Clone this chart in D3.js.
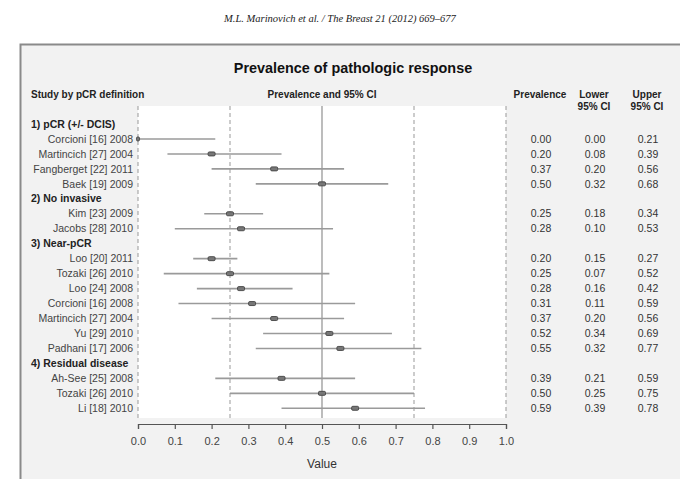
<!DOCTYPE html>
<html>
<head>
<meta charset="utf-8">
<script src="https://cdn.jsdelivr.net/npm/d3@7"></script>
<style>
  html, body { margin: 0; padding: 0; background: #fff; }
  svg { display: block; font-family: "Liberation Sans", Arial, sans-serif; }
</style>
</head>
<body>
<svg id="chart" width="680" height="479"></svg>
<script>
// Study groups (pCR definition) and the studies in each
const groups = ["1) pCR (+/- DCIS)", "2) No invasive", "3) Near-pCR", "4) Residual disease"];
const studies = [
  "Corcioni [16] 2008", "Martincich [27] 2004", "Fangberget [22] 2011", "Baek [19] 2009",
  "Kim [23] 2009", "Jacobs [28] 2010",
  "Loo [20] 2011", "Tozaki [26] 2010", "Loo [24] 2008", "Corcioni [16] 2008",
  "Martincich [27] 2004", "Yu [29] 2010", "Padhani [17] 2006",
  "Ah-See [25] 2008", "Tozaki [26] 2010", "Li [18] 2010"
];
const studyGroup = [0, 0, 0, 0, 1, 1, 2, 2, 2, 2, 2, 2, 2, 3, 3, 3];
const prevalence = [0.00, 0.20, 0.37, 0.50, 0.25, 0.28, 0.20, 0.25, 0.28, 0.31, 0.37, 0.52, 0.55, 0.39, 0.50, 0.59];
const lower      = [0.00, 0.08, 0.20, 0.32, 0.18, 0.10, 0.15, 0.07, 0.16, 0.11, 0.20, 0.34, 0.32, 0.21, 0.25, 0.39];
const upper      = [0.21, 0.39, 0.56, 0.68, 0.34, 0.53, 0.27, 0.52, 0.42, 0.59, 0.56, 0.69, 0.77, 0.59, 0.75, 0.78];
const xTicks = [0, 0.1, 0.2, 0.3, 0.4, 0.5, 0.6, 0.7, 0.8, 0.9, 1.0];
const dashedRefs = [0, 0.25, 0.75, 1.0];
const solidRef = 0.5;

// Build display rows: a header row before each group's studies
const rows = [];
groups.forEach((g, gi) => {
  rows.push({ type: "header", label: g });
  studies.forEach((s, i) => {
    if (studyGroup[i] === gi) {
      rows.push({ type: "study", label: s, est: prevalence[i], lo: lower[i], hi: upper[i] });
    }
  });
});

const svg = d3.select("#chart");

// Running header
svg.append("text")
  .attr("x", 340).attr("y", 22)
  .attr("text-anchor", "middle")
  .style("font-family", "'Liberation Serif', serif")
  .style("font-style", "italic")
  .style("font-size", "10.5px")
  .attr("fill", "#222")
  .text("M.L. Marinovich et al. / The Breast 21 (2012) 669–677");

// Panel frame
svg.append("rect")
  .attr("x", 20.5).attr("y", 44.5)
  .attr("width", 680).attr("height", 460)
  .attr("fill", "#f2f2f2")
  .attr("stroke", "#8a8a8a").attr("stroke-width", 2);

const x = d3.scaleLinear().domain([0, 1]).range([138, 506]);
const y = d3.scalePoint().domain(d3.range(rows.length)).range([124, 408.3]);

const plotTop = 106, plotBottom = 418;

// White plotting region
svg.append("rect")
  .attr("x", x(0)).attr("y", plotTop)
  .attr("width", x(1) - x(0)).attr("height", plotBottom - plotTop)
  .attr("fill", "#fff");

// Title and column headings
svg.append("text")
  .attr("x", 353).attr("y", 73)
  .attr("text-anchor", "middle")
  .style("font-size", "14.4px").style("font-weight", "bold")
  .attr("fill", "#111")
  .text("Prevalence of pathologic response");

const head = svg.append("g")
  .style("font-size", "10px").style("font-weight", "bold").attr("fill", "#222");
head.append("text").attr("x", 31).attr("y", 98).text("Study by pCR definition");
head.append("text").attr("x", 322).attr("y", 98).attr("text-anchor", "middle").text("Prevalence and 95% CI");
head.append("text").attr("x", 540).attr("y", 98).attr("text-anchor", "middle").text("Prevalence");
head.append("text").attr("x", 594).attr("y", 98).attr("text-anchor", "middle").text("Lower");
head.append("text").attr("x", 594).attr("y", 110).attr("text-anchor", "middle").text("95% CI");
head.append("text").attr("x", 647).attr("y", 98).attr("text-anchor", "middle").text("Upper");
head.append("text").attr("x", 647).attr("y", 110).attr("text-anchor", "middle").text("95% CI");

// Reference lines
svg.append("g").selectAll("line")
  .data(dashedRefs).join("line")
  .attr("x1", d => x(d)).attr("x2", d => x(d))
  .attr("y1", plotTop).attr("y2", plotBottom)
  .attr("stroke", "#999").attr("stroke-width", 1)
  .attr("stroke-dasharray", "4,3");
svg.append("line")
  .attr("x1", x(solidRef)).attr("x2", x(solidRef))
  .attr("y1", plotTop).attr("y2", plotBottom)
  .attr("stroke", "#999").attr("stroke-width", 1.3);

// Row labels
const labels = svg.append("g").style("font-size", "10.5px");
rows.forEach((r, i) => {
  if (r.type === "header") {
    labels.append("text")
      .attr("x", 31).attr("y", y(i)).attr("dy", "0.35em")
      .style("font-weight", "bold").attr("fill", "#222")
      .text(r.label);
  } else {
    labels.append("text")
      .attr("x", 133).attr("y", y(i)).attr("dy", "0.35em")
      .attr("text-anchor", "end").attr("fill", "#444")
      .text(r.label);
  }
});

// Confidence intervals and point estimates
const studyRows = rows.map((r, i) => ({ ...r, i })).filter(r => r.type === "study");
const marks = svg.append("g");
marks.selectAll("line.ci")
  .data(studyRows).join("line")
  .attr("class", "ci")
  .attr("x1", d => x(d.lo)).attr("x2", d => x(d.hi))
  .attr("y1", d => y(d.i)).attr("y2", d => y(d.i))
  .attr("stroke", "#9a9a9a").attr("stroke-width", 1.6);
marks.selectAll("rect.est")
  .data(studyRows).join("rect")
  .attr("class", "est")
  .attr("x", d => d.est === 0 ? x(d.est) - 1.5 : x(d.est) - 3.5)
  .attr("y", d => y(d.i) - 2)
  .attr("width", d => d.est === 0 ? 3 : 7).attr("height", 4)
  .attr("rx", 1.2)
  .attr("fill", "#777").attr("stroke", "#444").attr("stroke-width", 0.9);

// Value columns
const fmt = d3.format(".2f");
const cols = svg.append("g").style("font-size", "10.5px").attr("fill", "#333");
[["est", 541], ["lo", 595], ["hi", 648]].forEach(([key, cx]) => {
  cols.selectAll(null)
    .data(studyRows).join("text")
    .attr("x", cx).attr("y", d => y(d.i)).attr("dy", "0.35em")
    .attr("text-anchor", "middle")
    .text(d => fmt(d[key]));
});

// X axis
const axis = svg.append("g")
  .attr("transform", `translate(0,424)`)
  .call(d3.axisBottom(x).tickValues(xTicks).tickFormat(d3.format(".1f")).tickSize(5).tickPadding(8));
axis.select(".domain").attr("stroke", "#555").attr("stroke-width", 1.2);
axis.selectAll(".tick line").attr("stroke", "#555").attr("stroke-width", 1.2);
axis.selectAll(".tick text")
  .style("font-family", "'Liberation Sans', Arial, sans-serif")
  .style("font-size", "11px").attr("fill", "#444");

svg.append("text")
  .attr("x", 322).attr("y", 468)
  .attr("text-anchor", "middle")
  .style("font-size", "12px").attr("fill", "#333")
  .text("Value");
</script>
</body>
</html>
